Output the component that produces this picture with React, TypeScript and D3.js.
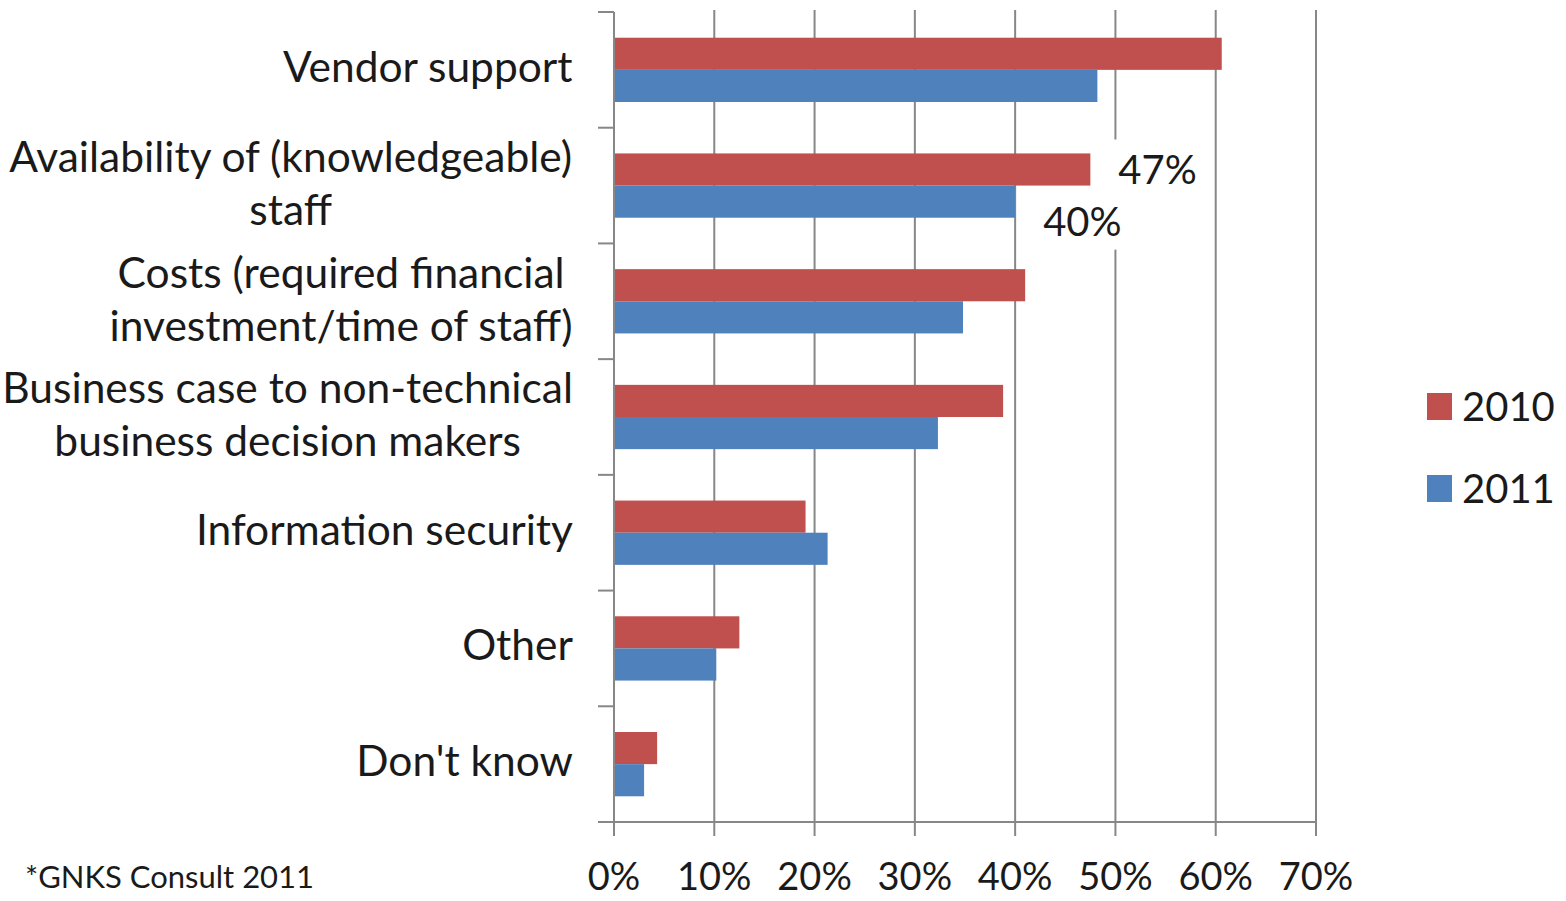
import React from "react";
import * as d3 from "d3";

const categories = [
  ["Vendor support"],
  ["Availability of (knowledgeable)", "staff"],
  ["Costs (required financial", "investment/time of staff)"],
  ["Business case to non-technical", "business decision makers"],
  ["Information security"],
  ["Other"],
  ["Don't know"],
];
const catKeys = categories.map((c) => c.join(" "));
const series = ["2010", "2011"];
const values2010 = [0.606, 0.475, 0.41, 0.388, 0.191, 0.125, 0.043];
const values2011 = [0.482, 0.4, 0.348, 0.323, 0.213, 0.102, 0.03];
const colors = ["#C0504D", "#4F81BD"];
const xTicks = [0, 0.1, 0.2, 0.3, 0.4, 0.5, 0.6, 0.7];
const labeled = [{ cat: 1, s: 0, text: "47%" }, { cat: 1, s: 1, text: "40%" }];

const FONT = "Lato, 'Noto Sans', sans-serif";
const CAT_SIZE = 42.5;

let ctx: CanvasRenderingContext2D | null = null;
function measure(t: string, size: number) {
  if (!ctx) ctx = document.createElement("canvas").getContext("2d");
  if (!ctx) return t.length * size * 0.5;
  ctx.font = `${size}px Lato, 'Noto Sans', sans-serif`;
  return ctx.measureText(t).width;
}

export default function App() {
  const W = 1566, H = 901;
  const x = d3.scaleLinear().domain([0, 0.7]).range([614, 1316]);
  const y = d3.scaleBand().domain(catKeys).range([12, 822]);
  const inner = d3.scaleBand().domain(series).range([0, y.bandwidth()]).paddingOuter(0.8);
  const vals = [values2010, values2011];
  const grid = "#878787";
  const txt = "#1a1a1a";
  return (
    <svg width={W} height={H} style={{ position: "absolute", left: 0, top: 0, background: "#fff" }} fontFamily={FONT}>
      <rect x={0} y={0} width={W} height={H} fill="#fff" />
      {xTicks.slice(1).map((t) => (
        <line key={t} x1={x(t)} x2={x(t)} y1={10} y2={822} stroke={grid} strokeWidth={2} />
      ))}
      {catKeys.map((k, i) =>
        series.map((s, j) => (
          <rect key={k + s} x={x(0)} y={(y(k) as number) + (inner(s) as number)} width={x(vals[j][i]) - x(0)} height={inner.bandwidth()} fill={colors[j]} />
        ))
      )}
      {labeled.map((l) => {
        const k = catKeys[l.cat];
        const bx = x(vals[l.s][l.cat]) + 28;
        const by = (y(k) as number) + (inner(series[l.s]) as number) + inner.bandwidth() / 2 + (l.s === 1 ? 20 : 0);
        return (
          <g key={l.text}>
            <rect x={bx - 12} y={by - 30} width={106} height={58} fill="#fff" />
            <text x={bx} y={by} dy="0.35em" fontSize={40} fill={txt}>{l.text}</text>
          </g>
        );
      })}
      <line x1={614} x2={614} y1={12} y2={822} stroke={grid} strokeWidth={2} />
      {[...catKeys.map((k) => y(k) as number), 822].map((ty, i) => (
        <line key={i} x1={598} x2={614} y1={ty} y2={ty} stroke={grid} strokeWidth={2} />
      ))}
      <line x1={598} x2={1316} y1={822} y2={822} stroke={grid} strokeWidth={2} />
      {xTicks.map((t) => (
        <g key={t}>
          <line x1={x(t)} x2={x(t)} y1={822} y2={836} stroke={grid} strokeWidth={2} />
          <text x={x(t)} y={890} textAnchor="middle" fontSize={38} fill={txt}>{d3.format(".0%")(t)}</text>
        </g>
      ))}
      {categories.map((lines, i) => {
        const cy = (y(catKeys[i]) as number) + y.bandwidth() / 2;
        const lh = 53;
        const maxW = Math.max(...lines.map((ln) => measure(ln, CAT_SIZE)));
        const cx = 573 - maxW / 2;
        const y0 = cy - ((lines.length - 1) * lh) / 2 - (lines.length > 1 ? 2 : 3);
        return (
          <text key={i} textAnchor="middle" fontSize={CAT_SIZE} fill={txt}>
            {lines.map((ln, li) => (
              <tspan key={li} x={cx} y={y0 + li * lh} dy="0.35em">{ln}</tspan>
            ))}
          </text>
        );
      })}
      {series.map((s, j) => (
        <g key={s} transform={`translate(1427, ${393 + j * 82})`}>
          <rect x={0} y={0} width={25} height={27} fill={colors[j]} />
          <text x={35} y={14} dy="0.35em" fontSize={40} fill={txt}>{s}</text>
        </g>
      ))}
      <text x={25} y={888} fontSize={31} fill={txt}>*GNKS Consult 2011</text>
    </svg>
  );
}
